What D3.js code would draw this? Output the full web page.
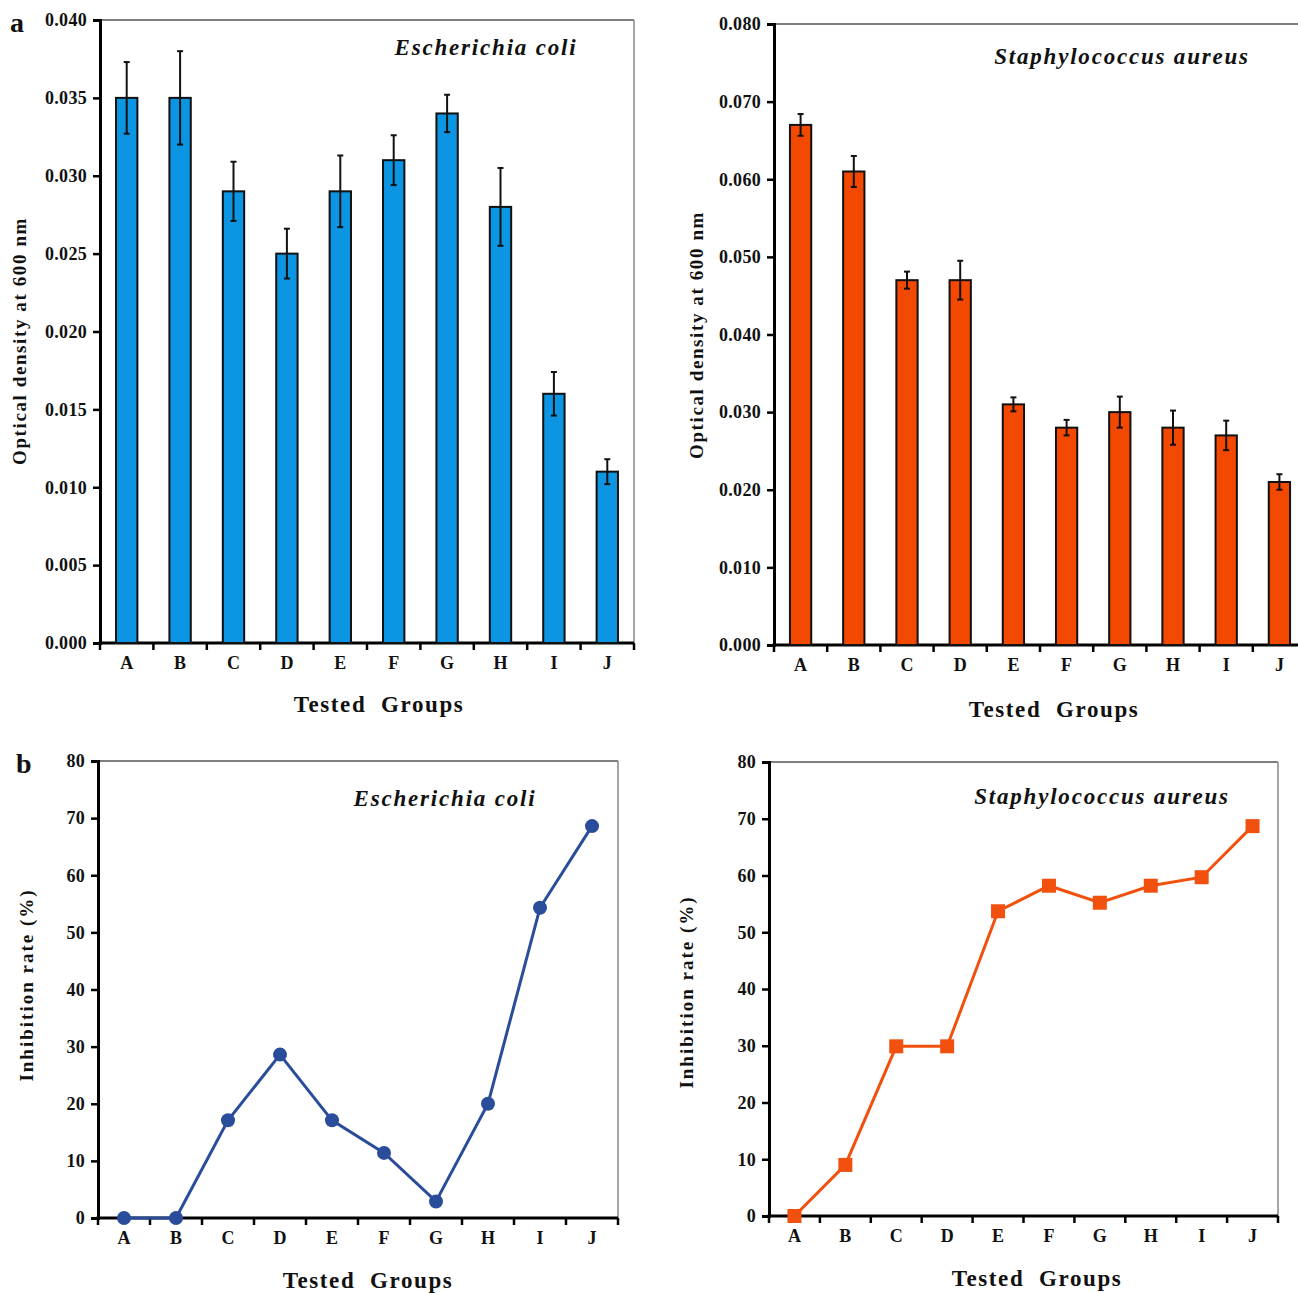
<!DOCTYPE html>
<html>
<head>
<meta charset="utf-8">
<script src="https://cdn.jsdelivr.net/npm/d3@7"></script>
<style>
  body { margin: 0; background: #fff; }
  svg text { font-family: "Liberation Serif", "Times New Roman", serif; font-weight: bold; fill: #111; }
</style>
</head>
<body>
<svg id="chart" width="1298" height="1293"></svg>
<script>
// data
var groups = ["A", "B", "C", "D", "E", "F", "G", "H", "I", "J"];

var ecoliOD    = [0.035, 0.035, 0.029, 0.025, 0.029, 0.031, 0.034, 0.028, 0.016, 0.011];
var ecoliErr   = [0.0023, 0.003, 0.0019, 0.0016, 0.0023, 0.0016, 0.0012, 0.0025, 0.0014, 0.0008];
var saureusOD  = [0.067, 0.061, 0.047, 0.047, 0.031, 0.028, 0.030, 0.028, 0.027, 0.021];
var saureusErr = [0.0014, 0.002, 0.0011, 0.0025, 0.0009, 0.001, 0.002, 0.0022, 0.0019, 0.001];

var ecoliInhib   = [0, 0, 17.1, 28.6, 17.1, 11.4, 2.9, 20.0, 54.3, 68.6];
var saureusInhib = [0, 9.0, 29.9, 29.9, 53.7, 58.2, 55.2, 58.2, 59.7, 68.7];

var odTicksEcoli   = [0, 0.005, 0.010, 0.015, 0.020, 0.025, 0.030, 0.035, 0.040];
var odTicksSaureus = [0, 0.010, 0.020, 0.030, 0.040, 0.050, 0.060, 0.070, 0.080];
var inhibTicks     = [0, 10, 20, 30, 40, 50, 60, 70, 80];

var blue = "#0c95e3", orange = "#f34800", navy = "#2a4d9b", lineOrange = "#f1500f";

var svg = d3.select("#chart");

function frame(g, x0, x1, y0, y1, yScale, yTicks, fmt, xScale) {
  // thin top/right border
  g.append("line").attr("x1", x0).attr("x2", x1).attr("y1", y1).attr("y2", y1)
    .attr("stroke", "#555").attr("stroke-width", 1.5);
  g.append("line").attr("x1", x1).attr("x2", x1).attr("y1", y1).attr("y2", y0)
    .attr("stroke", "#888").attr("stroke-width", 1.5);

  var yAxis = d3.axisLeft(yScale).tickValues(yTicks).tickFormat(fmt).tickSize(7).tickPadding(6);
  var ya = g.append("g").attr("transform", "translate(" + x0 + ",0)").call(yAxis);
  ya.select(".domain").attr("stroke", "#000").attr("stroke-width", 3);
  ya.selectAll(".tick line").attr("stroke", "#000").attr("stroke-width", 2.5);
  ya.selectAll("text").attr("font-size", 18).style("font-size", "18px").style("letter-spacing", "0.3px").attr("fill", "#111");

  // x axis: ticks at band edges, labels at centres
  var xAxis = d3.axisBottom(xScale).tickSize(0).tickPadding(13);
  var xa = g.append("g").attr("transform", "translate(0," + y0 + ")").call(xAxis);
  xa.select(".domain").remove();
  xa.selectAll("text").attr("font-size", 18).style("font-size", "18px").attr("fill", "#111");
  g.append("line").attr("x1", x0 - 1.5).attr("x2", x1).attr("y1", y0).attr("y2", y0)
    .attr("stroke", "#000").attr("stroke-width", 3);
  var step = xScale.step();
  for (var i = 0; i <= groups.length; i++) {
    var ex = x0 + i * step;
    if (ex > 1298) break;
    g.append("line").attr("x1", ex).attr("x2", ex).attr("y1", y0).attr("y2", y0 + 7)
      .attr("stroke", "#000").attr("stroke-width", 2.5);
  }
}

function titles(g, o) {
  g.append("text").attr("transform", "translate(" + o.yx + "," + o.yy + ") rotate(-90)")
    .attr("text-anchor", "middle").style("font-size", o.ySize + "px")
    .style("letter-spacing", o.ySpace + "px").text(o.yTitle);
  g.append("text").attr("x", o.xx).attr("y", o.xy).attr("text-anchor", "middle")
    .style("font-size", "23px").style("letter-spacing", "1.6px").attr("xml:space", "preserve")
    .text("Tested  Groups");
  g.append("text").attr("x", o.sx).attr("y", o.sy).attr("text-anchor", "middle")
    .style("font-size", "23px").style("font-style", "italic").style("letter-spacing", "1.8px")
    .text(o.species);
}

function barPanel(o) {
  var g = svg.append("g");
  var x = d3.scaleBand().domain(groups).range([o.x0, o.x1]).paddingInner(0.6).paddingOuter(0.3);
  var y = d3.scaleLinear().domain([0, o.yMax]).range([o.y0, o.y1]);
  frame(g, o.x0, o.x1, o.y0, o.y1, y, o.ticks, d3.format(".3f"), x);

  g.selectAll("rect.bar").data(o.values).enter().append("rect")
    .attr("class", "bar")
    .attr("x", function(d, i) { return x(groups[i]); })
    .attr("width", x.bandwidth())
    .attr("y", function(d) { return y(d); })
    .attr("height", function(d) { return o.y0 - y(d); })
    .attr("fill", o.color).attr("stroke", "#111").attr("stroke-width", 2);

  var eb = g.selectAll("g.err").data(o.values).enter().append("g").attr("class", "err");
  eb.append("line")
    .attr("x1", function(d, i) { return x(groups[i]) + x.bandwidth() / 2; })
    .attr("x2", function(d, i) { return x(groups[i]) + x.bandwidth() / 2; })
    .attr("y1", function(d, i) { return y(d + o.err[i]); })
    .attr("y2", function(d, i) { return y(d - o.err[i]); })
    .attr("stroke", "#111").attr("stroke-width", 2);
  [1, -1].forEach(function(s) {
    eb.append("line")
      .attr("x1", function(d, i) { return x(groups[i]) + x.bandwidth() / 2 - 3; })
      .attr("x2", function(d, i) { return x(groups[i]) + x.bandwidth() / 2 + 3; })
      .attr("y1", function(d, i) { return y(d + s * o.err[i]); })
      .attr("y2", function(d, i) { return y(d + s * o.err[i]); })
      .attr("stroke", "#111").attr("stroke-width", 2);
  });
  titles(g, o);
}

function linePanel(o) {
  var g = svg.append("g");
  var x = d3.scaleBand().domain(groups).range([o.x0, o.x1]).padding(0);
  var y = d3.scaleLinear().domain([0, 80]).range([o.y0, o.y1]);
  frame(g, o.x0, o.x1, o.y0, o.y1, y, inhibTicks, d3.format("d"), x);
  var cx = function(d, i) { return x(groups[i]) + x.bandwidth() / 2; };
  var line = d3.line().x(cx).y(function(d) { return y(d); });
  g.append("path").datum(o.values).attr("d", line)
    .attr("fill", "none").attr("stroke", o.color).attr("stroke-width", 3);
  if (o.marker === "circle") {
    g.selectAll("circle.pt").data(o.values).enter().append("circle")
      .attr("cx", cx).attr("cy", function(d) { return y(d); }).attr("r", 7)
      .attr("fill", o.color);
  } else {
    g.selectAll("rect.pt").data(o.values).enter().append("rect")
      .attr("x", function(d, i) { return cx(d, i) - 7; })
      .attr("y", function(d) { return y(d) - 7; })
      .attr("width", 14).attr("height", 14).attr("fill", o.color);
  }
  titles(g, o);
}

barPanel({ x0: 100, x1: 634, y0: 643, y1: 20, yMax: 0.040, ticks: odTicksEcoli,
  values: ecoliOD, err: ecoliErr, color: blue,
  yx: 26, yy: 341, ySize: 19, ySpace: 1.6, yTitle: "Optical density at 600 nm",
  xx: 379, xy: 712, sx: 486, sy: 55, species: "Escherichia coli" });

barPanel({ x0: 774, x1: 1306, y0: 645, y1: 24, yMax: 0.080, ticks: odTicksSaureus,
  values: saureusOD, err: saureusErr, color: orange,
  yx: 703, yy: 335, ySize: 19, ySpace: 1.6, yTitle: "Optical density at 600 nm",
  xx: 1054, xy: 717, sx: 1122, sy: 64, species: "Staphylococcus aureus" });

linePanel({ x0: 98, x1: 618, y0: 1218, y1: 761, values: ecoliInhib, color: navy, marker: "circle",
  yx: 33, yy: 985, ySize: 19, ySpace: 2, yTitle: "Inhibition rate  (%)",
  xx: 368, xy: 1288, sx: 445, sy: 806, species: "Escherichia coli" });

linePanel({ x0: 769, x1: 1278, y0: 1216, y1: 762, values: saureusInhib, color: lineOrange, marker: "square",
  yx: 693, yy: 992, ySize: 19, ySpace: 2, yTitle: "Inhibition rate  (%)",
  xx: 1037, xy: 1286, sx: 1102, sy: 804, species: "Staphylococcus aureus" });

svg.append("text").attr("x", 10).attr("y", 32).style("font-size", "28px").text("a");
svg.append("text").attr("x", 16).attr("y", 773).style("font-size", "28px").text("b");
</script>
</body>
</html>
